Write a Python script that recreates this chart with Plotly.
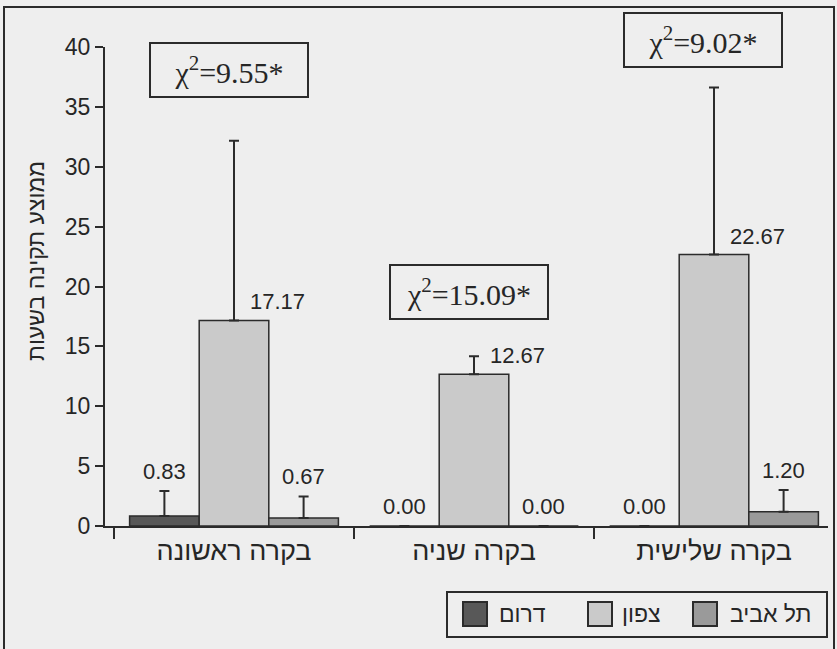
import plotly.graph_objects as go

categories = ["בקרה ראשונה", "בקרה שניה", "בקרה שלישית"]
series_names = ["דרום", "צפון", "תל אביב"]
south = [0.83, 0.00, 0.00]
south_err = [2.1, None, None]
north = [17.17, 12.67, 22.67]
north_err = [15.0, 1.5, 13.95]
tlv = [0.67, 0.00, 1.20]
tlv_err = [1.8, None, 1.8]
chi_labels = ["χ<sup>2</sup>=9.55*", "χ<sup>2</sup>=15.09*", "χ<sup>2</sup>=9.02*"]
y_ticks = [0, 5, 10, 15, 20, 25, 30, 35, 40]
y_title = "ממוצע תקינה בשעות"

W, H = 837, 649
ML, MR, MT, MB = 105, 9, 47, 123
PW, PH = W - ML - MR, H - MT - MB


def px(xp):
    return (xp - ML) / PW


def py(yp):
    return (H - MB - yp) / PH


BG = "#eeeeee"
LINE = "#2b2b2b"
TXT = "#262626"
colors = ["#585858", "#cacaca", "#9a9a9a"]
bargap = 0.13
bw = (1 - bargap) / 3
offsets = [-bw, 0.0, bw]
font_sans = "Liberation Sans, Arial, sans-serif"

fig = go.Figure()
all_vals = [south, north, tlv]
all_errs = [south_err, north_err, tlv_err]
for name, vals, errs, col in zip(series_names, all_vals, all_errs, colors):
    fig.add_trace(go.Bar(
        x=categories, y=vals, name=name,
        marker=dict(color=col, line=dict(color=LINE, width=1.5)),
        error_y=dict(type="data", array=errs, symmetric=False,
                     arrayminus=[0] * len(vals),
                     color=LINE, thickness=2, width=5),
    ))

annotations = []
for si, (vals, errs) in enumerate(zip(all_vals, all_errs)):
    for ci, v in enumerate(vals):
        e = errs[ci] or 0
        if si == 1:
            annotations.append(dict(
                x=ci + offsets[si], y=v, xref="x", yref="y",
                text=f"{v:.2f}", showarrow=False,
                xanchor="left", yanchor="bottom", xshift=14, yshift=4,
                font=dict(family=font_sans, size=22, color=TXT)))
        else:
            annotations.append(dict(
                x=ci + offsets[si], y=v + e, xref="x", yref="y",
                text=f"{v:.2f}", showarrow=False,
                xanchor="center", yanchor="bottom", yshift=5,
                font=dict(family=font_sans, size=22, color=TXT)))

chi_x = [-0.02, 0.98, 1.955]
chi_y = [70, 292, 40]
for lab, xx, yy in zip(chi_labels, chi_x, chi_y):
    annotations.append(dict(
        x=xx, y=py(yy), xref="x", yref="paper", text=lab, showarrow=False,
        xanchor="center", yanchor="middle",
        width=154, height=50, borderpad=1, borderwidth=2,
        bordercolor=LINE, bgcolor=BG,
        font=dict(family="Liberation Serif, Times New Roman, serif", size=30, color=TXT)))

# y-axis title
annotations.append(dict(
    x=px(36), y=py(261), xref="paper", yref="paper", text=y_title,
    textangle=-90, showarrow=False, xanchor="center", yanchor="middle",
    font=dict(family=font_sans, size=23, color=TXT)))

# legend (drawn as shapes + labels)
shapes = [
    dict(type="rect", xref="paper", yref="paper",
         x0=px(4), x1=px(834), y0=py(660), y1=py(7),
         line=dict(color=LINE, width=2), layer="below"),
    dict(type="rect", xref="paper", yref="paper",
         x0=px(447), x1=px(827), y0=py(637), y1=py(592),
         line=dict(color=LINE, width=2), fillcolor=BG),
]
swatch_x = [463, 588, 693]
label_x = [497, 620, 728]
for name, col, sx, lx in zip(series_names, colors, swatch_x, label_x):
    shapes.append(dict(type="rect", xref="paper", yref="paper",
                       x0=px(sx), x1=px(sx + 24), y0=py(626), y1=py(602),
                       line=dict(color=LINE, width=2), fillcolor=col))
    annotations.append(dict(x=px(lx), y=py(614), xref="paper", yref="paper",
                            text=name, showarrow=False, xanchor="left", yanchor="middle",
                            font=dict(family=font_sans, size=23, color=TXT)))

fig.update_layout(
    width=W, height=H,
    margin=dict(l=ML, r=MR, t=MT, b=MB, autoexpand=False),
    paper_bgcolor=BG, plot_bgcolor=BG,
    barmode="group", bargap=bargap, bargroupgap=0,
    showlegend=False,
    annotations=annotations,
    shapes=shapes,
)
fig.update_xaxes(
    type="category", range=[-0.5375, 2.475],
    showline=True, linecolor=LINE, linewidth=2,
    ticks="outside", tickson="boundaries", ticklen=11, tickwidth=2, tickcolor=LINE,
    tickfont=dict(family=font_sans, size=27, color=TXT),
    showgrid=False, zeroline=False, automargin=False,
)
fig.update_yaxes(
    range=[0, 40], tickvals=y_ticks, showline=True, linecolor=LINE, linewidth=2,
    ticks="outside", ticklen=8, tickwidth=2, tickcolor=LINE,
    tickfont=dict(family=font_sans, size=23, color=TXT),
    showgrid=False, zeroline=False, automargin=False,
)
fig.write_html("out.html", config={"displayModeBar": False},
               post_script="document.body.style.margin='0px';document.body.style.background='#eeeeee';")
